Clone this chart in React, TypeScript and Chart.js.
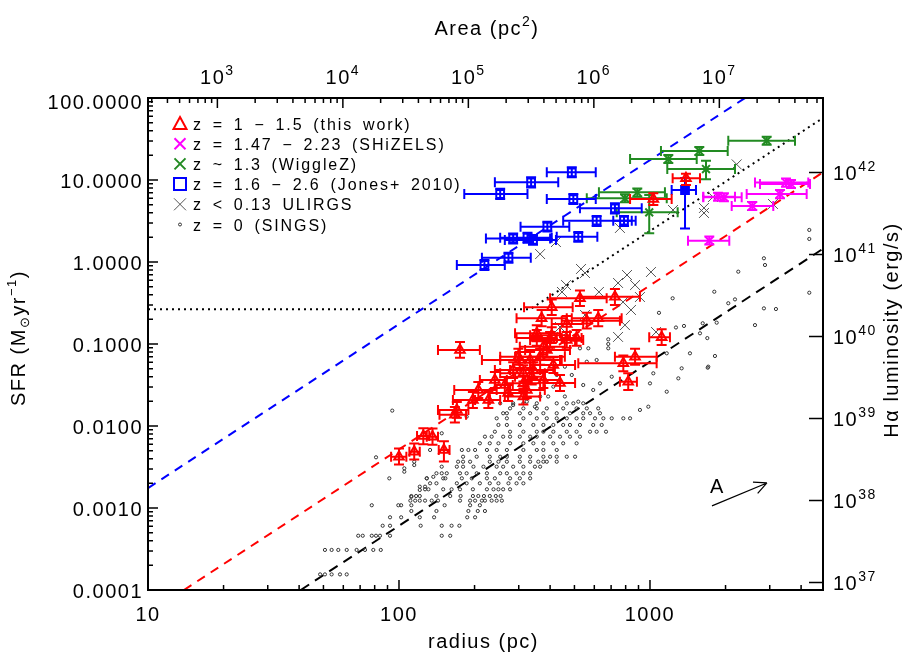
import React, { useEffect, useRef } from "react";
import { Chart, registerables } from "chart.js";
Chart.register(...registerables);

// ---------------- axes ----------------
const RADIUS_MIN = 10;
const RADIUS_MAX = 4890;
const SFR_MIN = 1e-4;
const SFR_MAX = 100;
const AREA_MIN = 280;
const AREA_MAX = 6.7e7;
const LUM_MIN = 8.1e36;
const LUM_MAX = 8.1e42;

const RADIUS_TICKS = [10, 100, 1000];
const RADIUS_TICK_LABELS = ["10", "100", "1000"];
const SFR_TICKS = [1e-4, 1e-3, 0.01, 0.1, 1, 10, 100];
const SFR_TICK_LABELS = ["0.0001", "0.0010", "0.0100", "0.1000", "1.0000", "10.0000", "100.0000"];
const AREA_TICKS = [1e3, 1e4, 1e5, 1e6, 1e7];
const AREA_TICK_EXP = ["3", "4", "5", "6", "7"];
const LUM_TICKS = [1e37, 1e38, 1e39, 1e40, 1e41, 1e42];
const LUM_TICK_EXP = ["37", "38", "39", "40", "41", "42"];

// ---------------- reference lines [radius, SFR] ----------------
const BLUE_LINE = [[10, 0.00175], [2400, 100.8]];
const RED_LINE = [[13.9, 1e-4], [4890, 12.4]];
const BLACK_LINE = [[40.6, 1e-4], [4890, 1.45]];
const DOTTED_LINE = [[10, 0.265], [333, 0.265], [4890, 57.1]];
const ARROW = [[1766, 0.00106], [2924, 0.00202]];
const ARROW_LABEL = [1857, 0.00187];

// ---------------- data: [radius, rLo, rHi, SFR, sfrLo, sfrHi] ----------------
const THIS_WORK = [
  [1391, 1231, 1582, 10.5, 8.7, 11.9],
  [1031, 833, 1220, 5.86, 4.95, 6.88],
  [526, 400, 672, 0.361, 0.29, 0.45],
  [725, 526, 912, 0.377, 0.3, 0.47],
  [406, 315, 492, 0.28, 0.225, 0.35],
  [370, 294, 466, 0.206, 0.165, 0.26],
  [560, 445, 759, 0.192, 0.155, 0.24],
  [622, 488, 771, 0.206, 0.165, 0.26],
  [466, 406, 542, 0.175, 0.14, 0.22],
  [354, 294, 425, 0.118, 0.095, 0.148],
  [406, 333, 480, 0.128, 0.103, 0.16],
  [510, 445, 534, 0.118, 0.095, 0.148],
  [466, 400, 542, 0.112, 0.09, 0.14],
  [1113, 993, 1201, 0.121, 0.097, 0.151],
  [175, 143, 210, 0.0845, 0.068, 0.106],
  [303, 214, 445, 0.0638, 0.051, 0.08],
  [872, 725, 1063, 0.07, 0.056, 0.0875],
  [783, 518, 1063, 0.0581, 0.0465, 0.0726],
  [333, 253, 438, 0.0638, 0.051, 0.08],
  [365, 290, 458, 0.07, 0.056, 0.0875],
  [388, 318, 480, 0.0845, 0.068, 0.106],
  [400, 333, 503, 0.112, 0.09, 0.14],
  [285, 241, 365, 0.0482, 0.0386, 0.06],
  [313, 253, 381, 0.0439, 0.035, 0.055],
  [343, 277, 418, 0.0482, 0.0386, 0.06],
  [241, 210, 269, 0.0364, 0.029, 0.0455],
  [264, 241, 284, 0.0316, 0.0253, 0.0395],
  [376, 318, 438, 0.0364, 0.029, 0.0455],
  [313, 264, 365, 0.0331, 0.0265, 0.0414],
  [323, 277, 381, 0.0275, 0.022, 0.0344],
  [207, 166, 245, 0.0275, 0.022, 0.0344],
  [197, 164, 230, 0.0208, 0.0166, 0.026],
  [227, 201, 253, 0.0208, 0.0166, 0.026],
  [313, 264, 365, 0.0229, 0.0183, 0.0286],
  [819, 759, 887, 0.0347, 0.0275, 0.0439],
  [170, 143, 189, 0.0157, 0.0126, 0.0196],
  [167, 145, 185, 0.0137, 0.011, 0.0171],
  [100, 93, 107, 0.00422, 0.0034, 0.0053],
  [115, 110, 121, 0.00486, 0.0039, 0.0061],
  [125, 118, 132, 0.00755, 0.006, 0.0094],
  [136, 129, 143, 0.00742, 0.0059, 0.0093],
  [151, 144, 159, 0.0051, 0.0037, 0.0065],
  [412, 333, 503, 0.0555, 0.0444, 0.069],
  [338, 290, 381, 0.0399, 0.032, 0.05],
  [299, 253, 365, 0.07, 0.056, 0.0875],
  [376, 303, 458, 0.0928, 0.074, 0.116],
  [354, 290, 438, 0.135, 0.108, 0.169],
  [272, 230, 318, 0.0253, 0.0202, 0.0316],
  [438, 381, 503, 0.0334, 0.0267, 0.0418],
];

const SHIZELS = [
  [3482, 2620, 4272, 9.32, 8.3, 10.4],
  [3646, 2743, 4341, 8.94, 8.0, 10.0],
  [3296, 2428, 4210, 6.75, 6.0, 7.55],
  [1971, 1631, 2319, 6.15, 5.5, 6.9],
  [1866, 1630, 2181, 6.26, 5.6, 7.0],
  [2556, 2116, 3099, 4.82, 4.3, 5.4],
  [1723, 1417, 2070, 1.82, 1.63, 2.04],
];

const WIGGLEZ = [
  [2917, 2051, 3782, 30.2, 27.0, 33.8],
  [1572, 1106, 2040, 22.6, 20.2, 25.3],
  [1183, 833, 1535, 18.0, 16.1, 20.2],
  [1672, 1172, 2181, 13.6, 10.2, 17.2],
  [890, 626, 1147, 7.08, 6.3, 7.9],
  [795, 560, 1166, 5.98, 5.35, 6.7],
  [993, 737, 1289, 4.03, 2.24, 6.56],
];

const JONES = [
  [488, 388, 608, 12.4, 10.8, 14.3],
  [336, 241, 431, 9.37, 8.1, 10.8],
  [253, 182, 325, 6.75, 5.85, 7.8],
  [495, 388, 608, 5.86, 5.1, 6.75],
  [725, 526, 927, 4.52, 3.9, 5.2],
  [613, 451, 846, 3.19, 2.75, 3.65],
  [788, 714, 877, 3.19, 2.75, 3.65],
  [390, 305, 477, 2.7, 2.35, 3.1],
  [518, 425, 617, 2.03, 1.76, 2.33],
  [285, 222, 400, 1.94, 1.68, 2.23],
  [325, 253, 406, 1.98, 1.72, 2.28],
  [342, 264, 422, 1.86, 1.62, 2.14],
  [273, 214, 335, 1.13, 0.98, 1.3],
  [219, 170, 264, 0.919, 0.8, 1.06],
];
const JONES_FILLED = [[1379, 1220, 1525, 7.55, 2.57, 10.6]];

// [radius, SFR]
const ULIRGS = [
  [2215, 15.5], [1782, 6.2], [1641, 4.56], [1641, 3.96], [1235, 4.31], [759, 2.6],
  [422, 1.75], [365, 1.25], [531, 0.822], [551, 0.734], [810, 0.694], [1009, 0.755],
  [746, 0.555], [872, 0.524], [463, 0.524], [446, 0.431], [626, 0.431], [912, 0.374],
  [781, 0.325], [840, 0.26], [551, 0.226], [795, 0.17], [746, 0.122], [438, 0.161],
  [446, 0.122], [1057, 0.14], [2549, 4.82], [3090, 5.1],
];

const SINGS = [
  [48.5, 1.55e-4], [50.7, 1.55e-4], [53.9, 1.55e-4], [58.2, 1.55e-4], [61.9, 1.55e-4],
  [50.7, 3.08e-4], [53.9, 3.08e-4], [57.3, 3.08e-4], [61.9, 3.08e-4], [67.8, 3.08e-4], [73.2, 3.08e-4], [79.0, 3.08e-4], [84.6, 3.08e-4],
  [68.8, 4.59e-4], [71.7, 4.59e-4], [77.9, 4.59e-4], [81.0, 4.59e-4], [84.0, 4.59e-4], [92.1, 4.59e-4], [148, 4.59e-4], [160, 4.59e-4],
  [86.1, 6.08e-4], [92.1, 6.08e-4], [122, 6.08e-4], [148, 6.08e-4], [162, 6.08e-4], [174, 6.08e-4],
  [92.1, 7.7e-4], [102, 7.7e-4], [121, 7.7e-4], [138, 7.7e-4], [187, 7.7e-4], [201, 7.7e-4],
  [112, 9.19e-4], [141, 9.19e-4], [189, 9.19e-4], [206, 9.19e-4], [220, 9.19e-4],
  [77.9, 1.08e-3], [99.4, 1.08e-3], [102, 1.08e-3], [112, 1.08e-3], [152, 1.08e-3], [192, 1.08e-3], [210, 1.08e-3],
  [111, 1.23e-3], [116, 1.23e-3], [121, 1.23e-3], [127, 1.23e-3], [135, 1.23e-3], [143, 1.23e-3], [175, 1.23e-3],
  [192, 1.23e-3], [201, 1.23e-3], [214, 1.23e-3], [220, 1.23e-3], [234, 1.23e-3], [245, 1.23e-3], [257, 1.23e-3],
  [112, 1.4e-3], [117, 1.4e-3], [121, 1.4e-3], [141, 1.4e-3], [160, 1.4e-3], [176, 1.4e-3], [197, 1.4e-3],
  [207, 1.4e-3], [218, 1.4e-3], [230, 1.4e-3], [243, 1.4e-3], [254, 1.4e-3],
  [127, 1.69e-3], [131, 1.69e-3], [150, 1.69e-3], [162, 1.69e-3], [175, 1.69e-3], [197, 1.69e-3], [224, 1.69e-3],
  [238, 1.69e-3], [249, 1.69e-3], [260, 1.69e-3], [277, 1.69e-3],
  [133, 2.0e-3], [141, 2.0e-3], [170, 2.0e-3], [186, 2.0e-3], [210, 2.0e-3], [230, 2.0e-3], [249, 2.0e-3], [273, 2.0e-3], [294, 2.0e-3], [313, 2.0e-3],
  [129, 2.3e-3], [150, 2.3e-3], [153, 2.3e-3], [178, 2.3e-3], [195, 2.3e-3], [224, 2.3e-3], [241, 2.3e-3], [277, 2.3e-3], [303, 2.3e-3], [333, 2.3e-3],
  [141, 2.65e-3], [148, 2.65e-3], [155, 2.65e-3], [175, 2.65e-3], [186, 2.65e-3], [204, 2.65e-3], [224, 2.65e-3],
  [253, 2.65e-3], [269, 2.65e-3], [294, 2.65e-3], [313, 2.65e-3], [333, 2.65e-3],
  [148, 3.19e-3], [170, 3.19e-3], [180, 3.19e-3], [198, 3.19e-3], [217, 3.19e-3], [245, 3.19e-3], [260, 3.19e-3],
  [285, 3.19e-3], [313, 3.19e-3], [348, 3.19e-3], [365, 3.19e-3],
  [172, 3.67e-3], [180, 3.67e-3], [192, 3.67e-3], [230, 3.67e-3], [249, 3.67e-3], [269, 3.67e-3], [303, 3.67e-3],
  [333, 3.67e-3], [359, 3.67e-3], [376, 3.67e-3], [388, 3.67e-3], [425, 3.67e-3],
  [180, 4.22e-3], [204, 4.22e-3], [230, 4.22e-3], [253, 4.22e-3], [269, 4.22e-3], [303, 4.22e-3], [333, 4.22e-3],
  [376, 4.22e-3], [400, 4.22e-3], [425, 4.22e-3], [466, 4.22e-3], [503, 4.22e-3],
  [178, 5.1e-3], [189, 5.1e-3], [201, 5.1e-3], [224, 5.1e-3], [245, 5.1e-3], [269, 5.1e-3], [313, 5.1e-3], [354, 5.1e-3], [376, 5.1e-3], [425, 5.1e-3],
  [210, 6.15e-3], [230, 6.15e-3], [249, 6.15e-3], [277, 6.15e-3], [313, 6.15e-3], [343, 6.15e-3], [376, 6.15e-3], [412, 6.15e-3], [451, 6.15e-3], [510, 6.15e-3],
  [220, 7.41e-3], [234, 7.41e-3], [260, 7.41e-3], [277, 7.41e-3], [303, 7.41e-3], [333, 7.41e-3], [354, 7.41e-3], [400, 7.41e-3], [438, 7.41e-3], [480, 7.41e-3], [526, 7.41e-3],
  [241, 8.52e-3], [277, 8.52e-3], [313, 8.52e-3], [354, 8.52e-3], [376, 8.52e-3], [412, 8.52e-3], [466, 8.52e-3], [510, 8.52e-3], [577, 8.52e-3], [613, 8.52e-3], [668, 8.52e-3],
  [249, 0.0103], [269, 0.0103], [303, 0.0103], [343, 0.0103], [376, 0.0103], [412, 0.0103], [451, 0.0103], [480, 0.0103], [526, 0.0103], [594, 0.0103], [642, 0.0103],
  [245, 0.0124], [269, 0.0124], [313, 0.0124], [354, 0.0124], [388, 0.0124], [425, 0.0124], [466, 0.0124],
  [510, 0.0124], [542, 0.0124], [604, 0.0124], [652, 0.0124], [704, 0.0124], [783, 0.0124], [833, 0.0124],
  [260, 0.0143], [303, 0.0143], [333, 0.0143], [376, 0.0143], [425, 0.0143], [480, 0.0143], [542, 0.0143], [577, 0.0143], [632, 0.0143],
  [277, 0.0164], [313, 0.0164], [354, 0.0164], [388, 0.0164], [451, 0.0164], [510, 0.0164], [560, 0.0164], [622, 0.0164],
  [253, 0.0189], [285, 0.0189], [313, 0.0189], [354, 0.0189], [425, 0.0189], [466, 0.0189], [495, 0.0189], [542, 0.0189],
  [94.0, 0.0154], [91.5, 2.3e-3], [81.0, 4.15e-3], [985, 0.0172], [148, 8.15e-3],
  [105, 3.05e-3], [105, 2.77e-3], [115, 3.67e-3], [115, 3.34e-3], [129, 2.3e-3], [137, 2.4e-3],
  [121, 1.82e-3], [127, 1.82e-3], [133, 5.1e-3], [112, 1.37e-3], [121, 1.66e-3],
  [1231, 0.361], [1086, 0.24], [1269, 0.159], [1582, 0.135], [682, 0.114], [682, 0.1], [682, 0.0886],
  [560, 0.0608], [613, 0.0638], [526, 0.0886], [1166, 0.077], [1443, 0.077], [1337, 0.0505], [1707, 0.0529],
  [1297, 0.0381], [1031, 0.0439], [1000, 0.0331], [1166, 0.0262], [912, 0.0157], [458, 0.0529], [425, 0.0419],
  [488, 0.0419], [542, 0.0316], [632, 0.0331], [594, 0.0275], [518, 0.0198], [458, 0.0229], [412, 0.0302],
  [393, 0.0229], [365, 0.0229], [323, 0.0198], [348, 0.0172], [285, 0.018], [269, 0.0143], [186, 0.013],
  [2844, 1.11], [2872, 0.919], [2248, 0.762], [1804, 0.434], [2181, 0.35], [2051, 0.314], [4312, 0.422],
  [2844, 0.272], [3176, 0.267], [1844, 0.182], [1366, 0.166], [2620, 0.17], [1692, 0.118], [568, 0.0886],
  [1815, 0.0714], [704, 0.0399], [4312, 2.46], [4312, 1.91], [1622, 0.179], [1698, 0.0514],
];

const LEGEND_LABELS = [
  "z = 1 \u2212 1.5 (this work)",
  "z = 1.47 \u2212 2.23 (SHiZELS)",
  "z ~ 1.3 (WiggleZ)",
  "z = 1.6 \u2212 2.6 (Jones+ 2010)",
  "z < 0.13 ULIRGS",
  "z = 0 (SINGS)",
];

// ---------------- styles ----------------
const FONT = "'Liberation Sans', Arial, Helvetica, sans-serif";
const RED = "#ff0000";
const MAGENTA = "#ff00ff";
const GREEN = "#228b22";
const BLUE = "#0000ff";
const GRAY = "#555555";
const DOT = "#333333";

type Seg = { t: string; size: number; dy?: number };

function segWidth(ctx: any, segs: Seg[]) {
  let w = 0;
  for (const s of segs) {
    ctx.font = `${s.size}px ${FONT}`;
    w += ctx.measureText(s.t).width;
  }
  return w;
}

function drawSegs(ctx: any, segs: Seg[], x: number, y: number, align: string) {
  const w = segWidth(ctx, segs);
  let cx = align === "center" ? x - w / 2 : align === "right" ? x - w : x;
  ctx.textAlign = "left";
  ctx.textBaseline = "alphabetic";
  for (const s of segs) {
    ctx.font = `${s.size}px ${FONT}`;
    ctx.fillText(s.t, cx, y + (s.dy || 0));
    cx += ctx.measureText(s.t).width;
  }
}

function minorLog(lo: number, hi: number) {
  const out: number[] = [];
  for (let e = Math.floor(Math.log10(lo)); e <= Math.ceil(Math.log10(hi)); e++) {
    for (let m = 2; m <= 9; m++) {
      const v = m * Math.pow(10, e);
      if (v > lo && v < hi) out.push(v);
    }
  }
  return out;
}

const errorBarPlugin = {
  id: "errorBars",
  beforeDatasetDraw(chart: any, args: any) {
    const ds: any = chart.data.datasets[args.index];
    if (!ds.errors) return;
    const { ctx, chartArea: a } = chart;
    const xs = chart.scales.x;
    const ys = chart.scales.y;
    const cap = 5;
    ctx.save();
    ctx.beginPath();
    ctx.rect(a.left, a.top, a.right - a.left, a.bottom - a.top);
    ctx.clip();
    ctx.strokeStyle = ds.errColor;
    ctx.lineWidth = 2;
    for (const e of ds.errors) {
      const px = xs.getPixelForValue(e[0]);
      const py = ys.getPixelForValue(e[3]);
      const x0 = xs.getPixelForValue(e[1]);
      const x1 = xs.getPixelForValue(e[2]);
      const y0 = ys.getPixelForValue(e[4]);
      const y1 = ys.getPixelForValue(e[5]);
      ctx.beginPath();
      ctx.moveTo(x0, py); ctx.lineTo(x1, py);
      ctx.moveTo(x0, py - cap); ctx.lineTo(x0, py + cap);
      ctx.moveTo(x1, py - cap); ctx.lineTo(x1, py + cap);
      ctx.moveTo(px, y0); ctx.lineTo(px, y1);
      ctx.moveTo(px - cap, y0); ctx.lineTo(px + cap, y0);
      ctx.moveTo(px - cap, y1); ctx.lineTo(px + cap, y1);
      ctx.stroke();
    }
    ctx.restore();
  },
};

const decorPlugin = {
  id: "decor",
  afterDraw(chart: any) {
    const { ctx, chartArea: a, scales } = chart;
    const xs = scales.x, ys = scales.y, xt = scales.x2, yr = scales.y2;
    ctx.save();
    ctx.strokeStyle = "#000";
    ctx.fillStyle = "#000";

    // ticks (inward)
    ctx.lineWidth = 1.5;
    ctx.beginPath();
    for (const v of SFR_TICKS) { const p = ys.getPixelForValue(v); ctx.moveTo(a.left, p); ctx.lineTo(a.left + 10, p); }
    for (const v of minorLog(SFR_MIN, SFR_MAX)) { const p = ys.getPixelForValue(v); ctx.moveTo(a.left, p); ctx.lineTo(a.left + 5, p); }
    for (const v of RADIUS_TICKS) { const p = xs.getPixelForValue(v); ctx.moveTo(p, a.bottom); ctx.lineTo(p, a.bottom - 10); }
    for (const v of minorLog(RADIUS_MIN, RADIUS_MAX)) { const p = xs.getPixelForValue(v); ctx.moveTo(p, a.bottom); ctx.lineTo(p, a.bottom - 5); }
    for (const v of AREA_TICKS) { const p = xt.getPixelForValue(v); ctx.moveTo(p, a.top); ctx.lineTo(p, a.top + 10); }
    for (const v of minorLog(AREA_MIN, AREA_MAX)) { const p = xt.getPixelForValue(v); ctx.moveTo(p, a.top); ctx.lineTo(p, a.top + 5); }
    for (const v of LUM_TICKS) { const p = yr.getPixelForValue(v); ctx.moveTo(a.right, p); ctx.lineTo(a.right - 14, p); }
    ctx.stroke();

    // frame
    ctx.lineWidth = 2;
    ctx.strokeRect(a.left, a.top, a.right - a.left, a.bottom - a.top);

    // tick labels
    ctx.letterSpacing = "1.5px";
    SFR_TICKS.forEach((v, i) => {
      const p = ys.getPixelForValue(v);
      const off = i === SFR_TICKS.length - 1 ? 4 : 1;
      drawSegs(ctx, [{ t: SFR_TICK_LABELS[i], size: 20 }], a.left - 5, p + 7 + off, "right");
    });
    RADIUS_TICKS.forEach((v, i) => {
      const p = xs.getPixelForValue(v);
      drawSegs(ctx, [{ t: RADIUS_TICK_LABELS[i], size: 20 }], p, a.bottom + 31, "center");
    });
    AREA_TICKS.forEach((v, i) => {
      const p = xt.getPixelForValue(v);
      drawSegs(ctx, [{ t: "10", size: 20 }, { t: AREA_TICK_EXP[i], size: 14, dy: -9 }], p, a.top - 14, "center");
    });
    LUM_TICKS.forEach((v, i) => {
      const p = yr.getPixelForValue(v);
      drawSegs(ctx, [{ t: "10", size: 20 }, { t: LUM_TICK_EXP[i], size: 14, dy: -9 }], a.right + 10, p + 8, "left");
    });

    // axis titles
    drawSegs(ctx, [{ t: "radius (pc)", size: 20 }], (a.left + a.right) / 2 - 2, a.bottom + 58, "center");
    drawSegs(ctx, [{ t: "Area (pc", size: 20 }, { t: "2", size: 14, dy: -9 }, { t: ")", size: 20 }], 487, 35, "center");

    ctx.save();
    ctx.translate(18, 338);
    ctx.rotate(-Math.PI / 2);
    drawSegs(ctx, [
      { t: "SFR (M", size: 20 },
      { t: "\u2299", size: 13, dy: 4 },
      { t: "yr", size: 20 },
      { t: "\u22121", size: 13, dy: -9 },
      { t: ")", size: 20 },
    ], 0, 7, "center");
    ctx.restore();

    ctx.save();
    ctx.translate(891, 330);
    ctx.rotate(-Math.PI / 2);
    drawSegs(ctx, [{ t: "H\u03b1 luminosity (erg/s)", size: 20 }], 0, 7, "center");
    ctx.restore();

    // extinction arrow
    const ax0 = xs.getPixelForValue(ARROW[0][0]), ay0 = ys.getPixelForValue(ARROW[0][1]);
    const ax1 = xs.getPixelForValue(ARROW[1][0]), ay1 = ys.getPixelForValue(ARROW[1][1]);
    const ang = Math.atan2(ay1 - ay0, ax1 - ax0);
    ctx.lineWidth = 1.2;
    ctx.beginPath();
    ctx.moveTo(ax0, ay0); ctx.lineTo(ax1, ay1);
    ctx.moveTo(ax1, ay1); ctx.lineTo(ax1 - 14 * Math.cos(ang - 0.45), ay1 - 14 * Math.sin(ang - 0.45));
    ctx.moveTo(ax1, ay1); ctx.lineTo(ax1 - 14 * Math.cos(ang + 0.45), ay1 - 14 * Math.sin(ang + 0.45));
    ctx.stroke();
    drawSegs(ctx, [{ t: "A", size: 20 }], xs.getPixelForValue(ARROW_LABEL[0]), ys.getPixelForValue(ARROW_LABEL[1]) + 7, "center");

    // legend
    const lx = 180, ly0 = 123.5, dyRow = 20.2;
    ctx.letterSpacing = "1.9px";
    ctx.wordSpacing = "3.5px";
    LEGEND_LABELS.forEach((lab, i) => {
      const cy = ly0 + i * dyRow;
      ctx.save();
      ctx.beginPath();
      if (i === 0) {
        ctx.strokeStyle = RED; ctx.lineWidth = 2;
        ctx.moveTo(lx, cy - 6.5); ctx.lineTo(lx + 6.5, cy + 5.5); ctx.lineTo(lx - 6.5, cy + 5.5); ctx.closePath();
      } else if (i === 1 || i === 2) {
        ctx.strokeStyle = i === 1 ? MAGENTA : GREEN; ctx.lineWidth = 2;
        ctx.moveTo(lx - 5.5, cy - 5.5); ctx.lineTo(lx + 5.5, cy + 5.5);
        ctx.moveTo(lx + 5.5, cy - 5.5); ctx.lineTo(lx - 5.5, cy + 5.5);
      } else if (i === 3) {
        ctx.strokeStyle = BLUE; ctx.lineWidth = 2;
        ctx.rect(lx - 6, cy - 6, 12, 12);
      } else if (i === 4) {
        ctx.strokeStyle = GRAY; ctx.lineWidth = 1;
        ctx.moveTo(lx - 6, cy - 6); ctx.lineTo(lx + 6, cy + 6);
        ctx.moveTo(lx + 6, cy - 6); ctx.lineTo(lx - 6, cy + 6);
      } else {
        ctx.strokeStyle = DOT; ctx.lineWidth = 1;
        ctx.arc(lx, cy, 1.5, 0, Math.PI * 2);
      }
      ctx.stroke();
      ctx.restore();
      drawSegs(ctx, [{ t: lab, size: 16 }], lx + 13, cy + 6, "left");
    });
    ctx.restore();
  },
};

function pts(list: number[][], yIdx: number) {
  return list.map((p) => ({ x: p[0], y: p[yIdx] }));
}

function lineDataset(points: number[][], color: string, dash: number[]) {
  return {
    data: points.map((p) => ({ x: p[0], y: p[1] })),
    showLine: true,
    borderColor: color,
    borderWidth: 2,
    borderDash: dash,
    pointRadius: 0,
    fill: false,
    order: 10,
  };
}

function markerDataset(list: number[][], yIdx: number, style: string, radius: number, color: string, width: number, fillColor: string, order: number, errors?: number[][]) {
  return {
    data: pts(list, yIdx),
    showLine: false,
    pointStyle: style,
    pointRadius: radius,
    pointBorderWidth: width,
    pointBorderColor: color,
    pointBackgroundColor: fillColor,
    borderColor: color,
    backgroundColor: fillColor,
    order,
    errors,
    errColor: color,
  };
}

export default function App() {
  const ref = useRef<HTMLCanvasElement>(null);

  useEffect(() => {
    const canvas = ref.current;
    if (!canvas) return;
    const none = "rgba(0,0,0,0)";
    const datasets: any[] = [
      lineDataset(BLUE_LINE, BLUE, [9, 7]),
      lineDataset(RED_LINE, RED, [9, 7]),
      lineDataset(BLACK_LINE, "#000", [10, 7]),
      lineDataset(DOTTED_LINE, "#000", [2, 4]),
      markerDataset(SINGS, 1, "circle", 1.6, DOT, 1, none, 9),
      markerDataset(ULIRGS, 1, "crossRot", 7, GRAY, 1, none, 8),
      markerDataset(WIGGLEZ, 3, "crossRot", 5.5, GREEN, 2, none, 6, WIGGLEZ),
      markerDataset(SHIZELS, 3, "crossRot", 5.5, MAGENTA, 2, none, 5, SHIZELS),
      markerDataset(JONES, 3, "rect", 5.5, BLUE, 2, none, 4, JONES),
      markerDataset(JONES_FILLED, 3, "rect", 5.5, BLUE, 2, BLUE, 3, JONES_FILLED),
      markerDataset(THIS_WORK, 3, "triangle", 5.5, RED, 2, none, 2, THIS_WORK),
    ];
    const hidden = { display: false };
    const chart = new Chart(canvas, {
      type: "scatter",
      data: { datasets },
      options: {
        responsive: false,
        animation: false,
        devicePixelRatio: 1,
        events: [],
        layout: { padding: 0 },
        plugins: { legend: { display: false }, tooltip: { enabled: false }, title: { display: false } },
        scales: {
          x: {
            type: "logarithmic", axis: "x", position: "bottom", min: RADIUS_MIN, max: RADIUS_MAX,
            ticks: hidden, grid: hidden, border: hidden,
            afterFit: (s: any) => { s.height = 64; },
          },
          x2: {
            type: "logarithmic", axis: "x", position: "top", min: AREA_MIN, max: AREA_MAX,
            ticks: hidden, grid: hidden, border: hidden,
            afterFit: (s: any) => { s.height = 98; },
          },
          y: {
            type: "logarithmic", axis: "y", position: "left", min: SFR_MIN, max: SFR_MAX,
            ticks: hidden, grid: hidden, border: hidden,
            afterFit: (s: any) => { s.width = 148; },
          },
          y2: {
            type: "logarithmic", axis: "y", position: "right", min: LUM_MIN, max: LUM_MAX,
            ticks: hidden, grid: hidden, border: hidden,
            afterFit: (s: any) => { s.width = 92; },
          },
        },
      } as any,
      plugins: [errorBarPlugin, decorPlugin],
    });
    return () => chart.destroy();
  }, []);

  return (
    <div style={{ position: "fixed", left: 0, top: 0, width: 915, height: 654, background: "#fff" }}>
      <canvas ref={ref} width={915} height={654} style={{ display: "block", width: 915, height: 654 }} />
    </div>
  );
}
